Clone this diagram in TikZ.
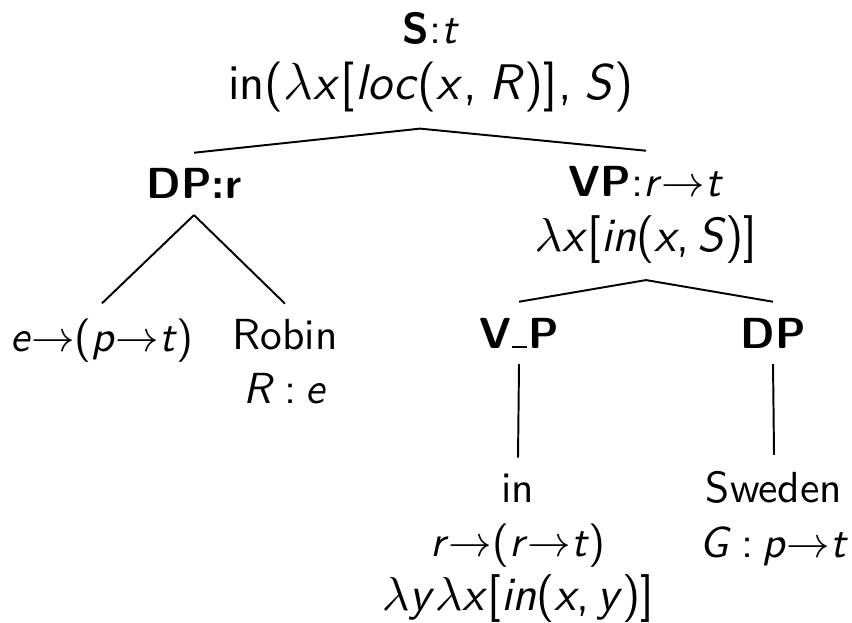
\documentclass[tikz,border=0pt]{standalone}
\newcommand{\sar}{\ensuremath{{\rightarrow}}}
\newcommand{\relcolon}{\hspace{0.22em}:\hspace{0.22em}}
\newcommand{\lam}{\ensuremath{\lambda}}
\newcommand{\ubar}{\kern0.3pt\rule{3.4pt}{0.5pt}\kern0.3pt}
\newcommand{\bigfml}[1]{{\fontsize{11.5}{13.1}\selectfont #1}}
\newcommand{\midfml}[1]{{\fontsize{11}{12.65}\selectfont #1}}
\newcommand{\cmw}{,\hspace{3pt}}
\tikzset{
  lbl/.style={anchor=base, align=center, inner xsep=1pt, inner ysep=3.5pt,
    font=\sffamily\fontsize{10}{12.65}\selectfont},
  branch/.style={line width=0.45pt, draw=black}
}
\begin{document}
\begin{tikzpicture}[x=0.23pt,y=-0.23pt]
\useasboundingbox (0,0) rectangle (852,622);
\node[lbl, font=\sffamily\fontsize{10}{13.1}\selectfont] (S) at (431,100)
  {\textbf{S}:\textit{t}\hspace{5.5pt}\\
   \bigfml{in(\lam\textit{x}[\kern0.4pt\textit{loc}(\textit{x}\cmw\textit{R})]\cmw\textit{S})}};
\node[lbl] (DPr) at (194,199) {\textbf{DP:r}};
\node[lbl] (VP) at (646,252)
  {\textbf{VP}:\textit{r}\sar\textit{t}\\ \midfml{\lam\textit{x}[\textit{in}(\textit{x},\,\textit{S})]}};
\node[lbl] (ept) at (102,352) {\textit{e}\sar(\textit{p}\sar\textit{t})};
\node[lbl, font=\sffamily\fontsize{10}{12.2}\selectfont] (Robin) at (285,403) {Robin\\ \textit{R}\relcolon\textit{e}};
\node[lbl] (VsP) at (519,348) {\textbf{V\ubar P}};
\node[lbl] (DPb) at (773,348) {\textbf{DP}};
\node[lbl, font=\sffamily\fontsize{10}{12.4}\selectfont] (In) at (518,610)
  {in\\ \textit{r}\sar(\textit{r}\sar\textit{t})\\ \midfml{\lam\textit{y}\lam\textit{x}[\textit{in}(\textit{x},\,\textit{y})]}};
\node[lbl] (Sweden) at (774,557) {Sweden\\ \textit{G}\relcolon\textit{p}\sar\textit{t}};
\coordinate (Sroot) at ([xshift=-2.5pt]S.south);
\draw[branch] (Sroot) -- (DPr.north);
\draw[branch] (Sroot) -- (VP.north);
\draw[branch] (DPr.south) -- (ept.north);
\draw[branch] (DPr.south) -- (Robin.north);
\draw[branch] (VP.south) -- (VsP.north);
\draw[branch] (VP.south) -- (DPb.north);
\draw[branch] (VsP.south) -- (In.north);
\draw[branch] (DPb.south) -- (Sweden.north);
\end{tikzpicture}
\end{document}
